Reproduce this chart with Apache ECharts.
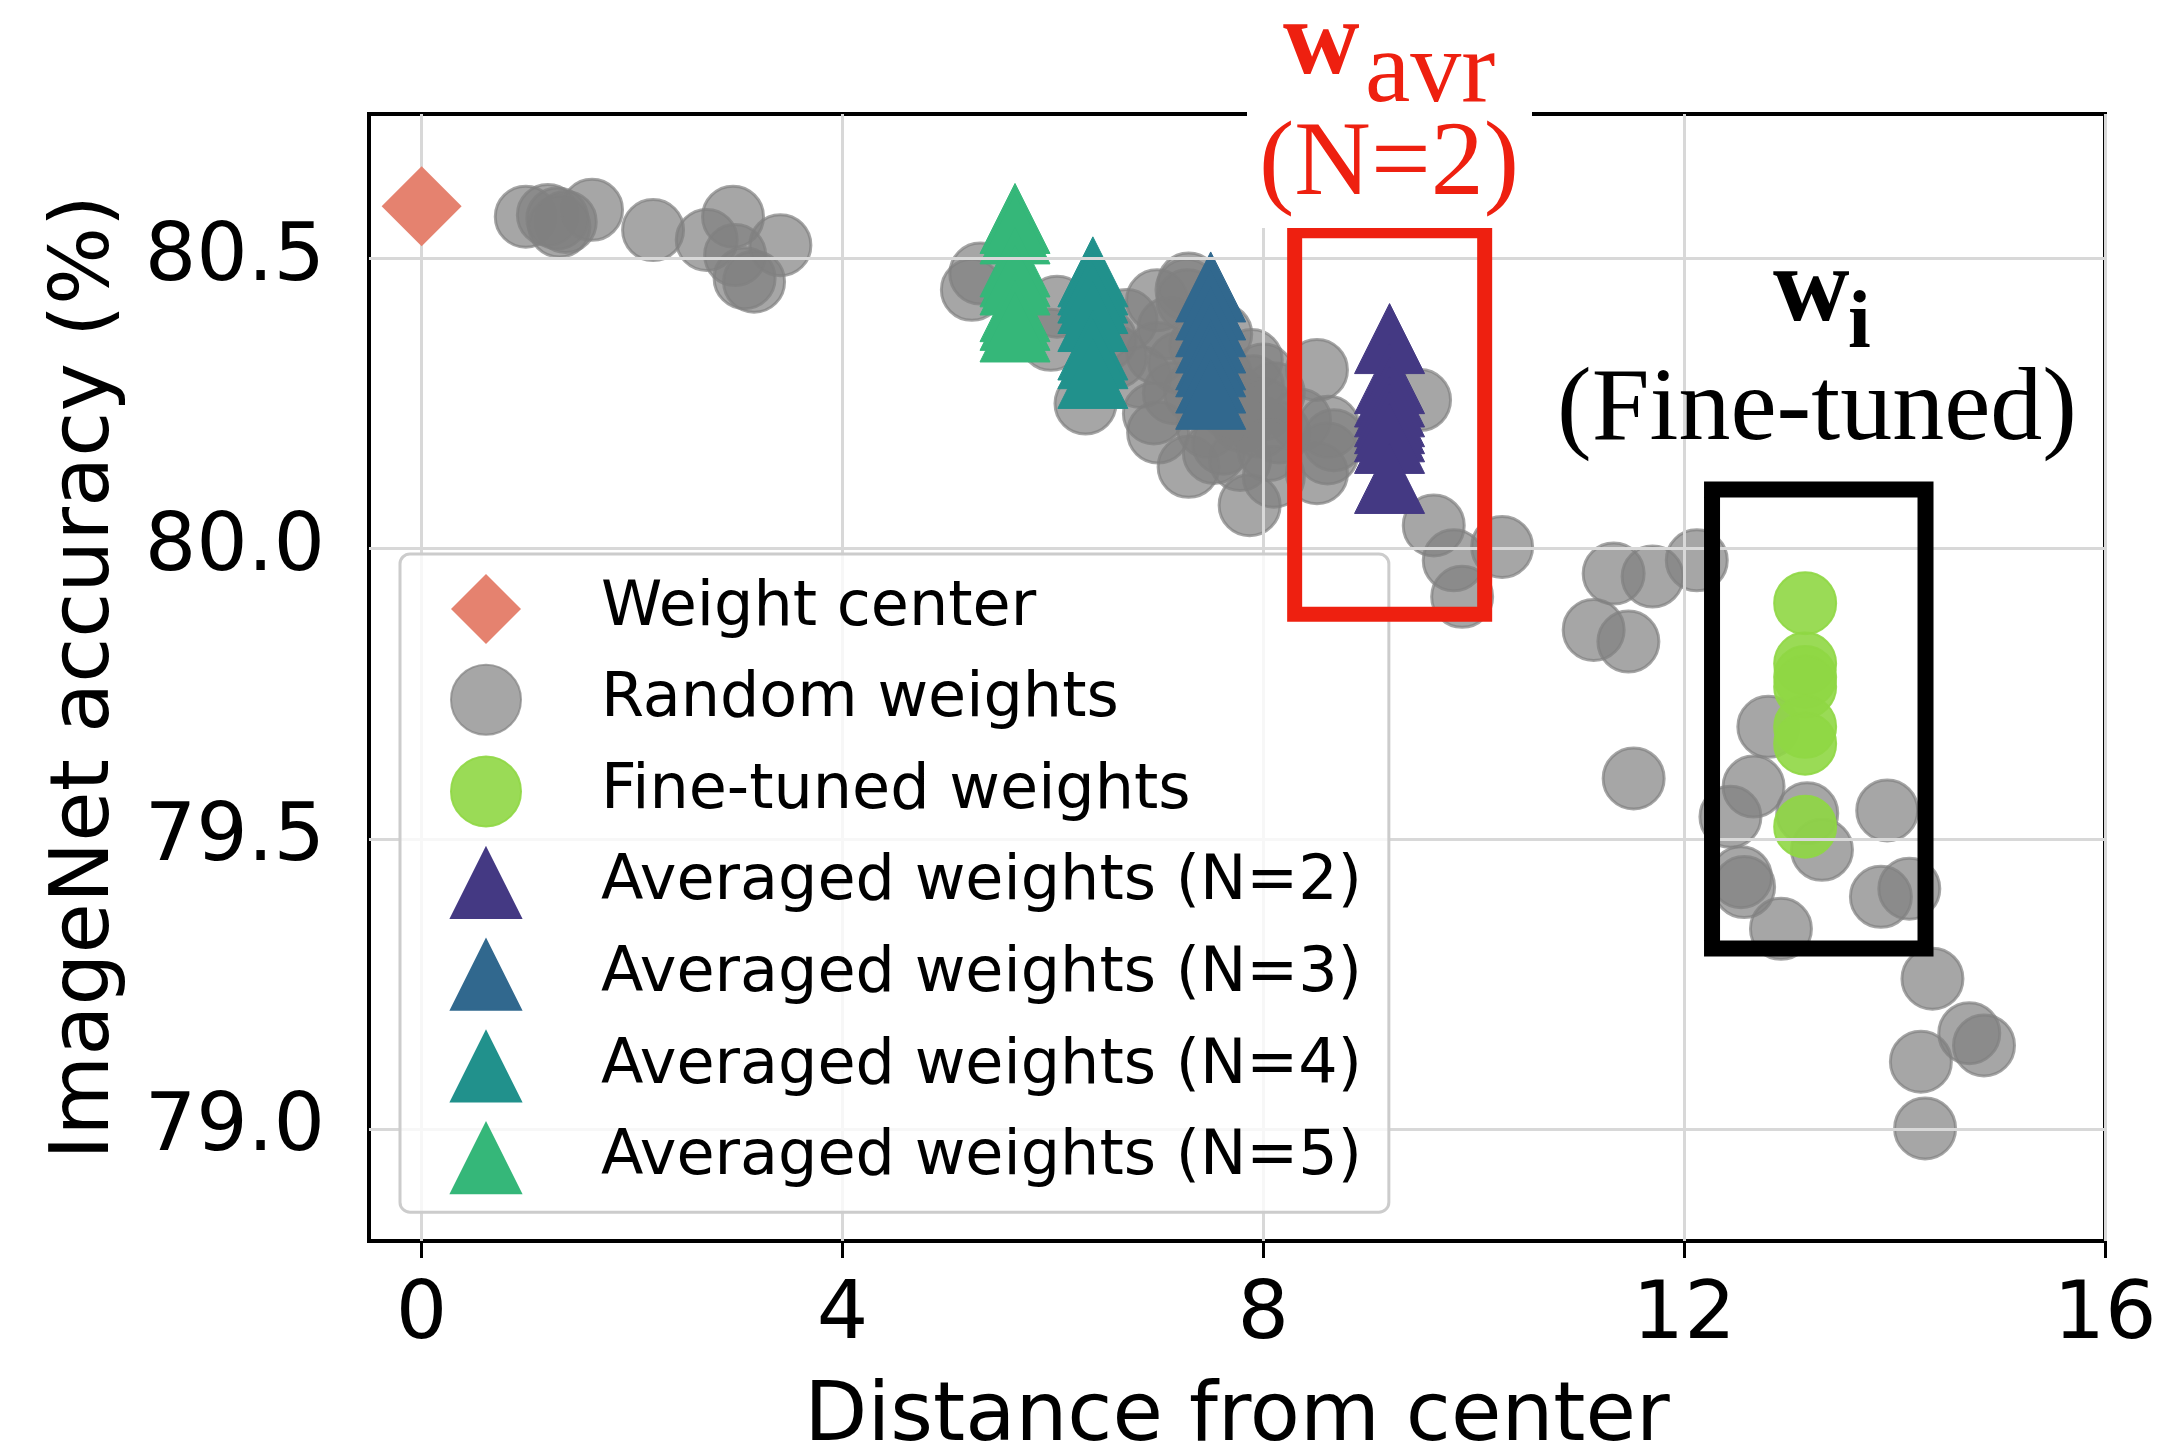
<!DOCTYPE html>
<html><head><meta charset="utf-8">
<script src="https://cdn.jsdelivr.net/npm/echarts@6/dist/echarts.min.js"></script>
<style>html,body{margin:0;padding:0;background:#fff}#c{width:2166px;height:1454px}</style>
</head><body><div id="c"></div>
<script>
// ---- data ----
const xTicks = [0, 4, 8, 12, 16];
const yTicks = [79.0, 79.5, 80.0, 80.5];
const seriesNames = ['Weight center', 'Random weights', 'Fine-tuned weights',
  'Averaged weights (N=2)', 'Averaged weights (N=3)', 'Averaged weights (N=4)', 'Averaged weights (N=5)'];
const weightCenter = [[0, 80.59]];
const randomWeights = [
  [0.99,80.572],[1.20,80.575],[1.29,80.569],[1.37,80.563],[1.31,80.555],[1.62,80.584],
  [2.20,80.549],[2.71,80.532],[2.96,80.572],[2.98,80.506],[3.07,80.466],[3.16,80.460],[3.41,80.523],
  [5.23,80.446],[5.31,80.474],[5.98,80.360],[6.04,80.417],[6.31,80.250],[6.70,80.394],[6.83,80.296],
  [6.96,80.233],[6.99,80.428],[6.99,80.337],[7.15,80.268],[7.27,80.446],[7.29,80.457],[7.28,80.428],
  [7.29,80.141],[7.47,80.210],[7.53,80.165],[7.62,80.181],[7.78,80.153],[7.87,80.075],[7.89,80.325],
  [7.97,80.210],[8.10,80.268],[8.10,80.124],[8.35,80.222],[8.51,80.308],[8.62,80.210],[8.61,80.164],
  [8.51,80.130],[8.67,80.187],
  [7.10,80.380],[7.40,80.350],[7.60,80.300],[7.75,80.260],[7.00,80.200],[7.20,80.320],[8.00,80.300],
  [7.80,80.220],[6.60,80.330],[6.50,80.360],
  [7.90,80.280],[8.00,80.240],[8.15,80.200],[7.70,80.240],[8.05,80.170],[7.60,80.370],[7.35,80.270],
  [9.49,80.256],[9.62,80.040],[9.81,79.980],[10.27,80.003],[9.89,79.917],
  [11.33,79.957],[11.70,79.952],[12.12,79.980],[11.14,79.860],[11.47,79.840],[11.52,79.604],
  [12.80,79.693],[12.66,79.590],[12.44,79.538],[13.17,79.544],[13.31,79.481],[13.93,79.549],
  [12.54,79.434],[12.57,79.417],[13.87,79.400],[14.14,79.414],[12.92,79.345],[14.36,79.259],
  [14.71,79.165],[14.85,79.144],[14.25,79.116],[14.29,79.001]
];
const fineTuned = [[13.15,79.906],[13.15,79.802],[13.15,79.779],[13.15,79.762],[13.15,79.693],[13.15,79.664],[13.15,79.521]];
const avgN2 = [[9.20,80.362],[9.20,80.293],[9.20,80.270],[9.20,80.253],[9.20,80.236],[9.20,80.224],[9.20,80.210],[9.20,80.190],[9.20,80.121]];
const avgN3 = [[7.50,80.451],[7.50,80.420],[7.50,80.391],[7.50,80.363],[7.50,80.334],[7.50,80.322],[7.50,80.294],[7.50,80.266]];
const avgN4 = [[6.38,80.477],[6.38,80.463],[6.38,80.449],[6.38,80.431],[6.38,80.400],[6.38,80.351],[6.38,80.336],[6.38,80.302]];
const avgN5 = [[5.64,80.569],[5.64,80.551],[5.64,80.494],[5.64,80.477],[5.64,80.463],[5.64,80.417],[5.64,80.402],[5.64,80.382]];
// annotation boxes in data coordinates [x0, y0, x1, y1]
const redBox = [8.298, 79.887, 10.104, 80.548];
const blackBox = [12.265, 79.311, 14.294, 80.102];

// ---- chart ----
const chart = echarts.init(document.getElementById('c'), null, {renderer: 'canvas'});
const SANS = 'DejaVu Sans';
const SERIF = 'Liberation Serif';
const colors = {
  center: '#e5826f', random: 'rgba(128,128,128,0.7)', fine: 'rgba(143,215,68,0.9)',
  n2: '#443983', n3: '#31688e', n4: '#21918c', n5: '#35b779'
};
function triSeries(name, data, color) {
  return {name, type: 'scatter', data, symbol: 'triangle', symbolSize: 70, z: 4,
    itemStyle: {color, opacity: 1, borderColor: color, borderWidth: 1}, emphasis: {disabled: true}};
}
const option = {
  animation: false,
  backgroundColor: '#fff',
  grid: {left: 369, top: 114, width: 1736, height: 1127, show: true, borderColor: '#000', borderWidth: 4,
    backgroundColor: 'transparent', outerBoundsMode: 'none', containLabel: false},
  xAxis: {
    type: 'value', min: -0.5, max: 16,
    axisLine: {show: false},
    axisTick: {show: true, customValues: xTicks, length: 17, lineStyle: {color: '#000', width: 3}},
    axisLabel: {customValues: xTicks, fontSize: 81, fontFamily: SANS, color: '#000', margin: 35},
    splitLine: {show: false},
    name: 'Distance from center', nameLocation: 'middle', nameGap: 137,
    nameTextStyle: {fontSize: 82, fontFamily: SANS, color: '#000'}
  },
  yAxis: {
    type: 'value', min: 78.807, max: 80.749,
    axisLine: {show: false},
    axisTick: {show: true, customValues: yTicks, length: 17, lineStyle: {color: '#000', width: 3}},
    axisLabel: {customValues: yTicks, fontSize: 81, fontFamily: SANS, color: '#000', margin: 44,
      formatter: v => Number(v).toFixed(1)},
    splitLine: {show: false},
    name: 'ImageNet accuracy (%)', nameLocation: 'middle', nameGap: 241, nameRotate: 90,
    nameTextStyle: {fontSize: 82, fontFamily: SANS, color: '#000'}
  },
  legend: {
    orient: 'vertical', left: 400, top: 554,
    data: seriesNames,
    itemWidth: 70, itemHeight: 70, itemGap: 19.7,
    padding: [20, 27, 18, 50],
    backgroundColor: 'rgba(255,255,255,0.8)', borderColor: '#cccccc', borderWidth: 3, borderRadius: 10,
    textStyle: {fontSize: 62, fontFamily: SANS, color: '#000', padding: [0, 0, 0, 75]},
    selectedMode: false, z: 10
  },
  series: [
    {type: 'scatter', data: [], z: 1, silent: true,
      markLine: {silent: true, animation: false, symbol: ['none', 'none'], label: {show: false},
        emphasis: {disabled: true},
        lineStyle: {color: '#d8d8d8', width: 3, type: 'solid'},
        data: xTicks.map(v => ({xAxis: v})).concat(yTicks.map(v => ({yAxis: v})))}},
    {name: seriesNames[1], type: 'scatter', data: randomWeights, symbol: 'circle', symbolSize: 61, z: 2,
      itemStyle: {color: colors.random, borderColor: colors.random, borderWidth: 3, opacity: 1}, emphasis: {disabled: true}},
    {name: seriesNames[2], type: 'scatter', data: fineTuned, symbol: 'circle', symbolSize: 62, z: 3,
      itemStyle: {color: colors.fine, borderColor: colors.fine, borderWidth: 2, opacity: 1}, emphasis: {disabled: true}},
    triSeries(seriesNames[3], avgN2, colors.n2),
    triSeries(seriesNames[4], avgN3, colors.n3),
    triSeries(seriesNames[5], avgN4, colors.n4),
    triSeries(seriesNames[6], avgN5, colors.n5),
    {name: seriesNames[0], type: 'scatter', data: weightCenter, symbol: 'diamond', symbolSize: 80, z: 5,
      itemStyle: {color: colors.center, opacity: 1}, emphasis: {disabled: true}}
  ]
};
chart.setOption(option);

function boxRect(b) {
  const p0 = chart.convertToPixel({gridIndex: 0}, [b[0], b[3]]);
  const p1 = chart.convertToPixel({gridIndex: 0}, [b[2], b[1]]);
  return {x: p0[0], y: p0[1], width: p1[0] - p0[0], height: p1[1] - p0[1]};
}
function txt(text, x, y, font, fill, align) {
  return {type: 'text', x, y, z: 70,
    style: {text, font, fill, align: align || 'left', verticalAlign: 'middle',
      textAlign: align || 'left', textVerticalAlign: 'middle'}};
}
const RED = '#ee2010';
chart.setOption({graphic: {elements: [
  {type: 'rect', shape: boxRect(redBox), z: 50, style: {fill: 'none', stroke: RED, lineWidth: 15}},
  {type: 'rect', shape: boxRect(blackBox), z: 50, style: {fill: 'none', stroke: '#000', lineWidth: 16}},
  {type: 'rect', shape: {x: 1247, y: 0, width: 285, height: 228}, z: 60, style: {fill: '#fff'}},
  txt('w', 1283, 46, 'bold 106px "' + SERIF + '"', RED),
  txt('avr', 1365, 74, '102px "' + SERIF + '"', RED),
  txt('(N=2)', 1389, 166, '106px "' + SERIF + '"', RED, 'center'),
  txt('w', 1773, 293, 'bold 106px "' + SERIF + '"', '#000'),
  txt('i', 1848, 326, 'bold 82px "' + SERIF + '"', '#000'),
  txt('(Fine-tuned)', 1817, 412, '104px "' + SERIF + '"', '#000', 'center')
]}});
</script></body></html>
